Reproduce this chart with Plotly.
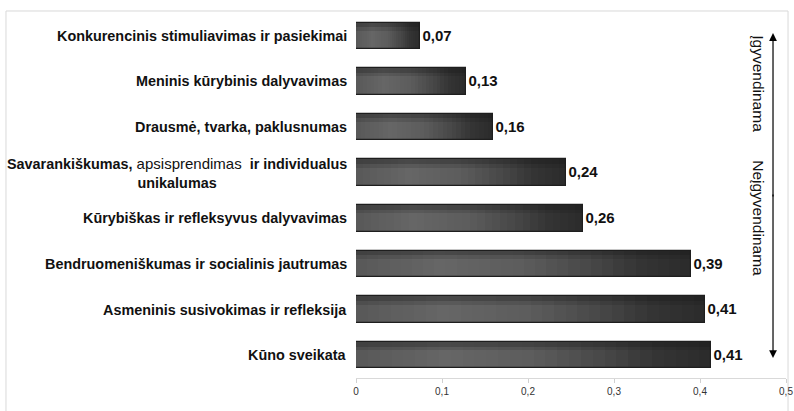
import plotly.graph_objects as go

categories = [
    "Konkurencinis stimuliavimas ir pasiekimai",
    "Meninis kūrybinis dalyvavimas",
    "Drausmė, tvarka, paklusnumas",
    "Savarankiškumas, apsisprendimas ir individualus unikalumas",
    "Kūrybiškas ir refleksyvus dalyvavimas",
    "Bendruomeniškumas ir socialinis jautrumas",
    "Asmeninis susivokimas ir refleksija",
    "Kūno sveikata",
]
category_labels = [
    "<b>Konkurencinis stimuliavimas ir pasiekimai</b>",
    "<b>Meninis kūrybinis dalyvavimas</b>",
    "<b>Drausmė, tvarka, paklusnumas</b>",
    "<b>Savarankiškumas,</b> <span style='font-size:15px'>apsisprendimas</span>  <b>ir individualus</b><br><b>unikalumas</b>",
    "<b>Kūrybiškas ir refleksyvus dalyvavimas</b>",
    "<b>Bendruomeniškumas ir socialinis jautrumas</b>",
    "<b>Asmeninis susivokimas ir refleksija</b>",
    "<b>Kūno sveikata</b>",
]
values = [0.074, 0.128, 0.159, 0.244, 0.264, 0.39, 0.406, 0.413]
value_labels = ["0,07", "0,13", "0,16", "0,24", "0,26", "0,39", "0,41", "0,41"]
tick_values = [0, 0.1, 0.2, 0.3, 0.4, 0.5]
tick_labels = ["0", "0,1", "0,2", "0,3", "0,4", "0,5"]
side_labels = ["Įgyvendinama", "Neįgyvendinama"]

BAR_W = 0.58

# gradient stops along the bar (position fraction, gray level)
grad = [(0.0, 0x58), (0.25, 0x66), (0.5, 0x5c), (0.7, 0x47), (0.85, 0x34), (1.0, 0x2b)]


def gray_at(t):
    for (t0, g0), (t1, g1) in zip(grad[:-1], grad[1:]):
        if t0 <= t <= t1:
            g = int(round(g0 + (g1 - g0) * (t - t0) / (t1 - t0)))
            return f"rgb({g},{g},{g})"
    g = grad[-1][1]
    return f"rgb({g},{g},{g})"


fig = go.Figure()

N = 30
fracs = [1 - k / N for k in range(N)]
for k, f in enumerate(fracs):
    nxt = fracs[k + 1] if k + 1 < N else 0.0
    mid = (f + nxt) / 2
    fig.add_trace(go.Bar(
        y=categories, x=[v * f for v in values], orientation="h",
        width=BAR_W, marker=dict(color=gray_at(mid), line=dict(width=0)),
        hoverinfo="skip", showlegend=False,
    ))

# darker band along the top of the bars
fig.add_trace(go.Bar(
    y=categories, x=values, orientation="h", width=0.1, offset=-BAR_W / 2,
    marker=dict(color="rgba(20,20,20,0.35)", line=dict(width=0)),
    hoverinfo="skip", showlegend=False,
))
fig.add_trace(go.Bar(
    y=categories, x=values, orientation="h", width=0.08, offset=-BAR_W / 2 + 0.1,
    marker=dict(color="rgba(20,20,20,0.15)", line=dict(width=0)),
    hoverinfo="skip", showlegend=False,
))

# outline + value labels
fig.add_trace(go.Bar(
    y=categories, x=values, orientation="h", width=BAR_W,
    marker=dict(color="rgba(0,0,0,0)", line=dict(color="#1e1e1e", width=1.2)),
    text=value_labels, textposition="outside", cliponaxis=False, constraintext="none",
    textfont=dict(family="Liberation Sans", size=15, color="#111111", weight="bold"),
    showlegend=False,
))

for cat, lab in zip(categories, category_labels):
    fig.add_annotation(
        x=0, xref="paper", y=cat, yref="y", text=lab, showarrow=False,
        xanchor="right", xshift=-7, align="center",
        font=dict(family="Liberation Sans", size=14.4, color="#111111"),
    )

# double arrow on right
fig.add_annotation(x=0.9698, y=0.945, xref="paper", yref="paper", text="",
                   showarrow=True, ax=0, ay=165, arrowhead=2, arrowsize=1.3,
                   arrowwidth=1.2, arrowcolor="#000000")
fig.add_annotation(x=0.9698, y=0.0548, xref="paper", yref="paper", text="",
                   showarrow=True, ax=0, ay=-165, arrowhead=2, arrowsize=1.3,
                   arrowwidth=1.2, arrowcolor="#000000")
fig.add_annotation(x=0.937, y=0.805, xref="paper", yref="paper", text=side_labels[0],
                   showarrow=False, textangle=90, xanchor="center", yanchor="middle",
                   font=dict(family="Liberation Sans", size=15.5, color="#111111"))
fig.add_annotation(x=0.937, y=0.438, xref="paper", yref="paper", text=side_labels[1],
                   showarrow=False, textangle=90, xanchor="center", yanchor="middle",
                   font=dict(family="Liberation Sans", size=15.5, color="#111111"))

# outer frame
fig.add_shape(type="rect", xref="paper", yref="paper",
              x0=-0.814, x1=1.0047, y0=-0.095, y1=1.0055,
              line=dict(color="#d9d9d9", width=1), fillcolor="rgba(0,0,0,0)", layer="below")

fig.update_layout(
    width=794, height=411,
    margin=dict(l=356, r=8, t=13, b=33),
    barmode="overlay",
    bargap=0,
    separators=", ",
    paper_bgcolor="white", plot_bgcolor="white",
    font=dict(family="Liberation Sans"),
    xaxis=dict(
        range=[0, 0.5], tickvals=tick_values, ticktext=tick_labels,
        showgrid=False, zeroline=False, showline=True, linecolor="#d9d9d9", linewidth=1,
        ticks="outside", ticklen=4, tickcolor="#d0d0d0",
        tickfont=dict(family="Liberation Sans", size=10, color="#333333"),
        fixedrange=True, automargin=False,
    ),
    yaxis=dict(
        categoryorder="array", categoryarray=categories, autorange="reversed",
        showticklabels=False, showgrid=False, zeroline=False, showline=False, ticks="",
        fixedrange=True,
    ),
)

fig.write_html("out.html", config={"displayModeBar": False},
               post_script="document.body.style.margin='0';document.body.style.overflow='hidden';")
